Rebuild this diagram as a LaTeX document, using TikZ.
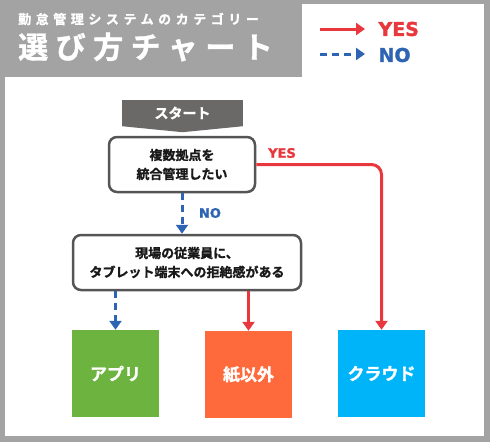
\documentclass[tikz,border=0pt]{standalone}
\usepackage{fontspec}
\setmainfont{DejaVu Sans}[BoldFeatures={FakeBold=1.5}]
\newfontfamily\jp{Noto Sans CJK JP}[BoldFont={Noto Sans CJK JP Bold},BoldFeatures={FakeBold=1.2}]
\usetikzlibrary{arrows.meta}

\definecolor{framegray}{HTML}{A3A3A3}
\definecolor{startgray}{HTML}{6B6868}
\definecolor{boxline}{HTML}{555555}
\definecolor{yesred}{HTML}{E8383D}
\definecolor{noblue}{HTML}{2E64B4}
\definecolor{appgreen}{HTML}{6DB33F}
\definecolor{paperorange}{HTML}{FF6A3D}
\definecolor{cloudblue}{HTML}{00B4FA}

\tikzset{
  question/.style={draw=boxline, line width=2.5pt, rounded corners=8pt, fill=white,
    align=center, text=black!90, font=\jp\bfseries\fontsize{13}{19}\selectfont},
  result/.style={minimum width=87pt, minimum height=87pt, text=white,
    font=\jp\bfseries\fontsize{17}{20}\selectfont},
  yesarrow/.style={draw=yesred, line width=3pt, -{Triangle[length=9pt,width=12pt]}},
  noarrow/.style={draw=noblue, line width=3pt, dash pattern=on 7pt off 5pt,
    -{Triangle[length=9pt,width=12pt]}},
  answer/.style={font=\bfseries\fontsize{13}{13}\selectfont},
}

\begin{document}
\begin{tikzpicture}[x=1pt,y=-1pt]
\useasboundingbox (0,0) rectangle (490,442);
\fill[framegray] (0,0) rectangle (490,442);
\fill[white] (5,77) rectangle (484,436);
\fill[white] (302,4) rectangle (484,78);

% header
\node[anchor=west, text=white, inner sep=0pt] (subtitle) at (18,19)
  {\jp\bfseries\fontsize{13}{13}\selectfont\addfontfeature{LetterSpace=35}勤怠管理システムのカテゴリー};
\node[anchor=west, text=white, inner sep=0pt] (title) at (18,47)
  {\jp\bfseries\fontsize{30}{30}\selectfont\addfontfeature{LetterSpace=25}選び方チャート};

% legend
\coordinate (yesA) at (320,29);
\coordinate (yesB) at (365,29);
\coordinate (noA) at (320,54);
\coordinate (noB) at (365,54);
\draw[yesarrow] (yesA) -- (yesB);
\draw[noarrow] (noA) -- (noB);
\node[anchor=west, text=yesred, font=\bfseries\fontsize{19}{19}\selectfont] (yeskey) at (375,29) {YES};
\node[anchor=west, text=noblue, font=\bfseries\fontsize{19}{19}\selectfont] (nokey) at (375,55) {NO};

% chart
\node[fill=startgray, minimum width=121pt, minimum height=26pt, text=white,
  font=\jp\bfseries\fontsize{14}{14}\selectfont] (start) at (182.5,113) {スタート};
\fill[startgray] (start.south west) -- (start.south east) -- ([yshift=-6pt]start.south) -- cycle;

\node[question, minimum width=146pt, minimum height=55pt] (q1) at (182,164.5)
  {複数拠点を\\統合管理したい};
\node[question, minimum width=228pt, minimum height=55pt] (q2) at (187,262.5)
  {現場の従業員に、\\タブレット端末への拒絶感がある};

\node[result, fill=appgreen] (app) at (115.5,373.5) {アプリ};
\node[result, fill=paperorange] (paper) at (248.5,374.5) {紙以外};
\node[result, fill=cloudblue] (cloud) at (381.5,373.5) {クラウド};

\draw[yesarrow, rounded corners=10pt] (q1.east) -| (cloud.north);
\draw[noarrow] (q1.south) -- (q1.south |- q2.north);
\draw[noarrow] (app.north |- q2.south) -- (app.north);
\draw[yesarrow] (paper.north |- q2.south) -- (paper.north);

\node[answer, text=yesred] (yeslabel) at (282,153) {YES};
\node[answer, text=noblue] (nolabel) at (210,213) {NO};
\end{tikzpicture}
\end{document}
